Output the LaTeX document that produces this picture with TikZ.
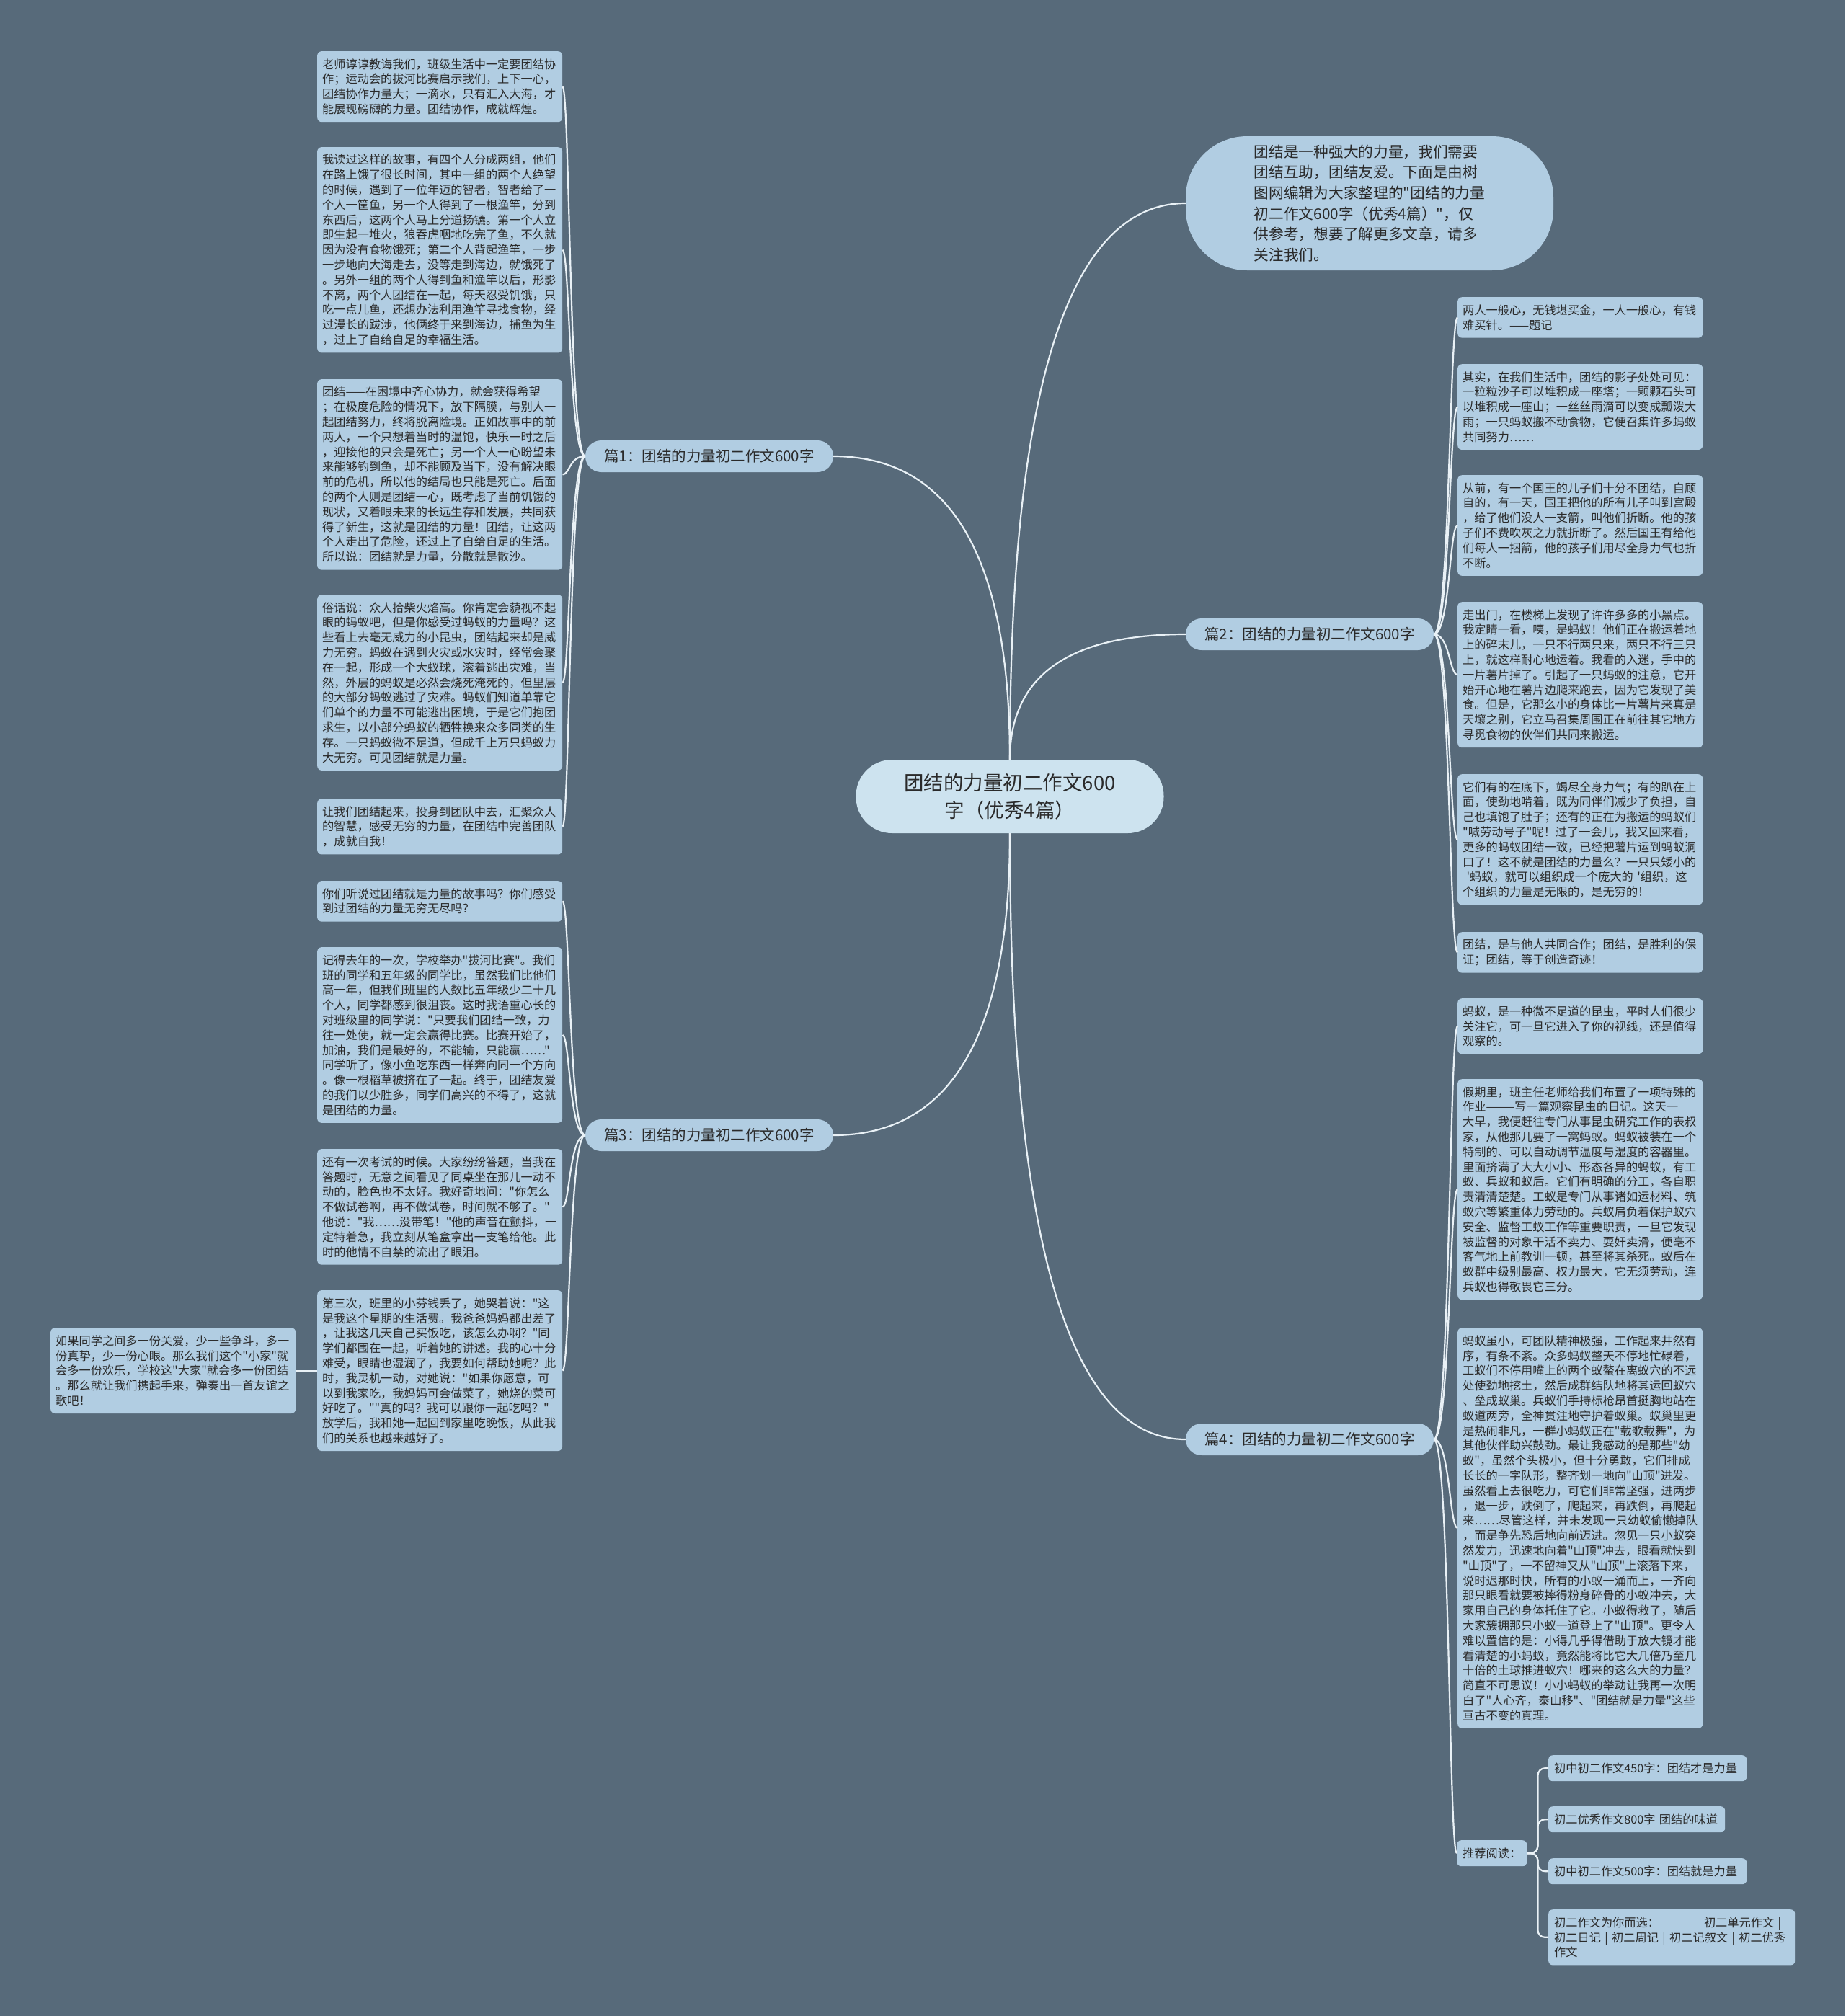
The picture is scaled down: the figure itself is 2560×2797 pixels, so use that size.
\documentclass[tikz,border=0pt]{standalone}
\usepackage{fontspec}
\setmainfont{Noto Sans CJK SC}[Ligatures=TeXOff]
\usetikzlibrary{calc}
\definecolor{bgc}{HTML}{576A7A}
\definecolor{leafc}{HTML}{B1CDE2}
\definecolor{centc}{HTML}{CDE3EF}
\definecolor{txtc}{HTML}{2A2A2A}
\definecolor{linec}{HTML}{E9F1F6}
\setlength{\parindent}{0pt}
\begin{document}
\begin{tikzpicture}[x=1pt,y=-1pt,
  leaf/.style={fill=leafc, rounded corners=6pt, text=txtc, anchor=north west, text width=326pt, inner xsep=7pt, inner ysep=0pt, align=left, font=\fontsize{16.2}{20.8}\selectfont},
  small/.style={fill=leafc, rounded corners=6pt, text=txtc, anchor=north west, inner xsep=8pt, inner ysep=0pt, align=left, font=\fontsize{16.2}{20.8}\selectfont},
  branch/.style={fill=leafc, rounded corners=22pt, text=txtc, minimum width=344pt, minimum height=44pt, inner sep=0pt, font=\fontsize{20.5}{24}\selectfont},
  bub/.style={fill=leafc, rounded corners=85pt, text=txtc, minimum width=510pt, minimum height=186pt, inner sep=0pt, align=left, font=\fontsize{20.7}{28.7}\selectfont},
  cent/.style={fill=centc, rounded corners=50pt, text=txtc, minimum width=427pt, minimum height=102pt, inner sep=0pt, align=center, font=\fontsize{27.5}{38}\selectfont},
  conn/.style={draw=linec, line width=2.2pt}]
\fill[bgc] (0,0) rectangle (2560,2797);
\useasboundingbox (0,0) rectangle (2560,2797);

% centre and top bubble
\node[cent] (c) at (1401,1105) {团结的力量初二作文600\\字（优秀4篇）};
\node[bub] (bub) at (1900,282) {团结是一种强大的力量，我们需要\\团结互助，团结友爱。下面是由树\\图网编辑为大家整理的"团结的力量\\初二作文600字（优秀4篇）"，仅\\供参考，想要了解更多文章，请多\\关注我们。};

% branches
\node[branch] (b1) at (984,633) {篇1：团结的力量初二作文600字};
\node[branch] (b2) at (1817,880) {篇2：团结的力量初二作文600字};
\node[branch] (b3) at (984,1575) {篇3：团结的力量初二作文600字};
\node[branch] (b4) at (1817,1997) {篇4：团结的力量初二作文600字};

% left leaves, part 1
\node[leaf, minimum height=98pt] (l1) at (440,71) {老师谆谆教诲我们，班级生活中一定要团结协\\作；运动会的拔河比赛启示我们，上下一心，\\团结协作力量大；一滴水，只有汇入大海，才\\能展现磅礴的力量。团结协作，成就辉煌。};
\node[leaf, minimum height=285.2pt] (l2) at (440,204) {我读过这样的故事，有四个人分成两组，他们\\在路上饿了很长时间，其中一组的两个人绝望\\的时候，遇到了一位年迈的智者，智者给了一\\个人一筐鱼，另一个人得到了一根渔竿，分到\\东西后，这两个人马上分道扬镳。第一个人立\\即生起一堆火，狼吞虎咽地吃完了鱼，不久就\\因为没有食物饿死；第二个人背起渔竿，一步\\一步地向大海走去，没等走到海边，就饿死了\\。另外一组的两个人得到鱼和渔竿以后，形影\\不离，两个人团结在一起，每天忍受饥饿，只\\吃一点儿鱼，还想办法利用渔竿寻找食物，经\\过漫长的跋涉，他俩终于来到海边，捕鱼为生\\，过上了自给自足的幸福生活。};
\node[leaf, minimum height=264.4pt] (l3) at (440,526) {团结——在困境中齐心协力，就会获得希望\\；在极度危险的情况下，放下隔膜，与别人一\\起团结努力，终将脱离险境。正如故事中的前\\两人，一个只想着当时的温饱，快乐一时之后\\，迎接他的只会是死亡；另一个人一心盼望未\\来能够钓到鱼，却不能顾及当下，没有解决眼\\前的危机，所以他的结局也只能是死亡。后面\\的两个人则是团结一心，既考虑了当前饥饿的\\现状，又着眼未来的长远生存和发展，共同获\\得了新生，这就是团结的力量！团结，让这两\\个人走出了危险，还过上了自给自足的生活。\\所以说：团结就是力量，分散就是散沙。};
\node[leaf, minimum height=243.6pt] (l4) at (440,825) {俗话说：众人拾柴火焰高。你肯定会藐视不起\\眼的蚂蚁吧，但是你感受过蚂蚁的力量吗？这\\些看上去毫无威力的小昆虫，团结起来却是威\\力无穷。蚂蚁在遇到火灾或水灾时，经常会聚\\在一起，形成一个大蚁球，滚着逃出灾难，当\\然，外层的蚂蚁是必然会烧死淹死的，但里层\\的大部分蚂蚁逃过了灾难。蚂蚁们知道单靠它\\们单个的力量不可能逃出困境，于是它们抱团\\求生，以小部分蚂蚁的牺牲换来众多同类的生\\存。一只蚂蚁微不足道，但成千上万只蚂蚁力\\大无穷。可见团结就是力量。};
\node[leaf, minimum height=77.2pt] (l5) at (440,1108) {让我们团结起来，投身到团队中去，汇聚众人\\的智慧，感受无穷的力量，在团结中完善团队\\，成就自我！};

% left leaves, part 3
\node[leaf, minimum height=56.4pt] (l6) at (440,1222) {你们听说过团结就是力量的故事吗？你们感受\\到过团结的力量无穷无尽吗？};
\node[leaf, minimum height=243.6pt] (l7) at (440,1314) {记得去年的一次，学校举办"拔河比赛"。我们\\班的同学和五年级的同学比，虽然我们比他们\\高一年，但我们班里的人数比五年级少二十几\\个人，同学都感到很沮丧。这时我语重心长的\\对班级里的同学说："只要我们团结一致，力\\往一处使，就一定会赢得比赛。比赛开始了，\\加油，我们是最好的，不能输，只能赢……"\\同学听了，像小鱼吃东西一样奔向同一个方向\\。像一根稻草被挤在了一起。终于，团结友爱\\的我们以少胜多，同学们高兴的不得了，这就\\是团结的力量。};
\node[leaf, minimum height=160.4pt] (l8) at (440,1594) {还有一次考试的时候。大家纷纷答题，当我在\\答题时，无意之间看见了同桌坐在那儿一动不\\动的，脸色也不太好。我好奇地问："你怎么\\不做试卷啊，再不做试卷，时间就不够了。"\\他说："我……没带笔！"他的声音在颤抖，一\\定特着急，我立刻从笔盒拿出一支笔给他。此\\时的他情不自禁的流出了眼泪。};
\node[leaf, minimum height=222.8pt] (l9) at (440,1790) {第三次，班里的小芬钱丢了，她哭着说："这\\是我这个星期的生活费。我爸爸妈妈都出差了\\，让我这几天自己买饭吃，该怎么办啊？"同\\学们都围在一起，听着她的讲述。我的心十分\\难受，眼睛也湿润了，我要如何帮助她呢？此\\时，我灵机一动，对她说："如果你愿意，可\\以到我家吃，我妈妈可会做菜了，她烧的菜可\\好吃了。""真的吗？我可以跟你一起吃吗？"\\放学后，我和她一起回到家里吃晚饭，从此我\\们的关系也越来越好了。};
\node[leaf, minimum height=118.8pt] (fl) at (70,1842) {如果同学之间多一份关爱，少一些争斗，多一\\份真挚，少一份心眼。那么我们这个"小家"就\\会多一份欢乐，学校这"大家"就会多一份团结\\。那么就让我们携起手来，弹奏出一首友谊之\\歌吧！};

% right leaves, part 2
\node[leaf, minimum height=56.4pt] (r1) at (2022,412) {两人一般心，无钱堪买金，一人一般心，有钱\\难买针。——题记};
\node[leaf, minimum height=118.8pt] (r2) at (2022,505) {其实，在我们生活中，团结的影子处处可见：\\一粒粒沙子可以堆积成一座塔；一颗颗石头可\\以堆积成一座山；一丝丝雨滴可以变成瓢泼大\\雨；一只蚂蚁搬不动食物，它便召集许多蚂蚁\\共同努力……};
\node[leaf, minimum height=139.6pt] (r3) at (2022,659) {从前，有一个国王的儿子们十分不团结，自顾\\自的，有一天，国王把他的所有儿子叫到宫殿\\，给了他们没人一支箭，叫他们折断。他的孩\\子们不费吹灰之力就折断了。然后国王有给他\\们每人一捆箭，他的孩子们用尽全身力气也折\\不断。};
\node[leaf, minimum height=202pt] (r4) at (2022,835) {走出门，在楼梯上发现了许许多多的小黑点。\\我定睛一看，咦，是蚂蚁！他们正在搬运着地\\上的碎末儿，一只不行两只来，两只不行三只\\上，就这样耐心地运着。我看的入迷，手中的\\一片薯片掉了。引起了一只蚂蚁的注意，它开\\始开心地在薯片边爬来跑去，因为它发现了美\\食。但是，它那么小的身体比一片薯片来真是\\天壤之别，它立马召集周围正在前往其它地方\\寻觅食物的伙伴们共同来搬运。};
\node[leaf, minimum height=181.2pt] (r5) at (2022,1074) {它们有的在底下，竭尽全身力气；有的趴在上\\面，使劲地啃着，既为同伴们减少了负担，自\\己也填饱了肚子；还有的正在为搬运的蚂蚁们\\"喊劳动号子"呢！过了一会儿，我又回来看，\\更多的蚂蚁团结一致，已经把薯片运到蚂蚁洞\\口了！这不就是团结的力量么？一只只矮小的\\\ '蚂蚁，就可以组织成一个庞大的 '组织，这\\个组织的力量是无限的，是无穷的！};
\node[leaf, minimum height=56.4pt] (r6) at (2022,1293) {团结，是与他人共同合作；团结，是胜利的保\\证；团结，等于创造奇迹！};

% right leaves, part 4
\node[leaf, minimum height=77.2pt] (r7) at (2022,1385) {蚂蚁，是一种微不足道的昆虫，平时人们很少\\关注它，可一旦它进入了你的视线，还是值得\\观察的。};
\node[leaf, minimum height=306pt] (r8) at (2022,1497) {假期里，班主任老师给我们布置了一项特殊的\\作业———写一篇观察昆虫的日记。这天一\\大早，我便赶往专门从事昆虫研究工作的表叔\\家，从他那儿要了一窝蚂蚁。蚂蚁被装在一个\\特制的、可以自动调节温度与湿度的容器里。\\里面挤满了大大小小、形态各异的蚂蚁，有工\\蚁、兵蚁和蚁后。它们有明确的分工，各自职\\责清清楚楚。工蚁是专门从事诸如运材料、筑\\蚁穴等繁重体力劳动的。兵蚁肩负着保护蚁穴\\安全、监督工蚁工作等重要职责，一旦它发现\\被监督的对象干活不卖力、耍奸卖滑，便毫不\\客气地上前教训一顿，甚至将其杀死。蚁后在\\蚁群中级别最高、权力最大，它无须劳动，连\\兵蚁也得敬畏它三分。};
\node[leaf, minimum height=555.6pt] (r9) at (2022,1842) {蚂蚁虽小，可团队精神极强，工作起来井然有\\序，有条不紊。众多蚂蚁整天不停地忙碌着，\\工蚁们不停用嘴上的两个蚁螯在离蚁穴的不远\\处使劲地挖土，然后成群结队地将其运回蚁穴\\、垒成蚁巢。兵蚁们手持标枪昂首挺胸地站在\\蚁道两旁，全神贯注地守护着蚁巢。蚁巢里更\\是热闹非凡，一群小蚂蚁正在"载歌载舞"，为\\其他伙伴助兴鼓劲。最让我感动的是那些"幼\\蚁"，虽然个头极小，但十分勇敢，它们排成\\长长的一字队形，整齐划一地向"山顶"进发。\\虽然看上去很吃力，可它们非常坚强，进两步\\，退一步，跌倒了，爬起来，再跌倒，再爬起\\来……尽管这样，并未发现一只幼蚁偷懒掉队\\，而是争先恐后地向前迈进。忽见一只小蚁突\\然发力，迅速地向着"山顶"冲去，眼看就快到\\"山顶"了，一不留神又从"山顶"上滚落下来，\\说时迟那时快，所有的小蚁一涌而上，一齐向\\那只眼看就要被摔得粉身碎骨的小蚁冲去，大\\家用自己的身体托住了它。小蚁得救了，随后\\大家簇拥那只小蚁一道登上了"山顶"。更令人\\难以置信的是：小得几乎得借助于放大镜才能\\看清楚的小蚂蚁，竟然能将比它大几倍乃至几\\十倍的土球推进蚁穴！哪来的这么大的力量？\\简直不可思议！小小蚂蚁的举动让我再一次明\\白了"人心齐，泰山移"、"团结就是力量"这些\\亘古不变的真理。};

% recommended reading
\node[small, text width=81pt, minimum height=36pt] (rd) at (2021,2553) {推荐阅读：};
\node[small, text width=259pt, minimum height=36pt] (s1) at (2148,2435) {初中初二作文450字：团结才是力量};
\node[small, text width=229pt, minimum height=36pt] (s2) at (2148,2506) {初二优秀作文800字 团结的味道};
\node[small, text width=259pt, minimum height=36pt] (s3) at (2148,2578) {初中初二作文500字：团结就是力量};
\node[small, text width=326pt, minimum height=77.2pt] (s4) at (2148,2649) {初二作文为你而选：\hspace{62pt}初二单元作文 |\\初二日记 | 初二周记 | 初二记叙文 | 初二优秀\\作文};

% connectors: centre (quadratic-like curves)
\foreach \a/\t in {north/b1.east, north/b2.west, north/bub.west, south/b3.east, south/b4.west}
  \draw[conn] (c.\a) .. controls ($(c.\a)!0.667!(c.\a |- \t)$) and ($(\t)!0.667!(c.\a |- \t)$) .. (\t);

% connectors: branches to leaves
\foreach \n in {l1,l2,l3,l4,l5}
  \draw[conn] (b1.west) .. controls ([xshift=-22pt]b1.west) and ([xshift=10pt]\n.east) .. (\n.east);
\foreach \n in {l6,l7,l8,l9}
  \draw[conn] (b3.west) .. controls ([xshift=-22pt]b3.west) and ([xshift=10pt]\n.east) .. (\n.east);
\foreach \n in {r1,r2,r3,r4,r5,r6}
  \draw[conn] (b2.east) .. controls ([xshift=22pt]b2.east) and ([xshift=-11pt]\n.west) .. (\n.west);
\foreach \n in {r7,r8,r9,rd}
  \draw[conn] (b4.east) .. controls ([xshift=22pt]b4.east) and ([xshift=-11pt]\n.west) .. (\n.west);
\draw[conn] (l9.west) -- (fl.east);
\foreach \s in {s1,s2,s3,s4}
  \draw[conn, rounded corners=10pt] (rd.east) -- ++(15,0) |- (\s.west);
\end{tikzpicture}
\end{document}
